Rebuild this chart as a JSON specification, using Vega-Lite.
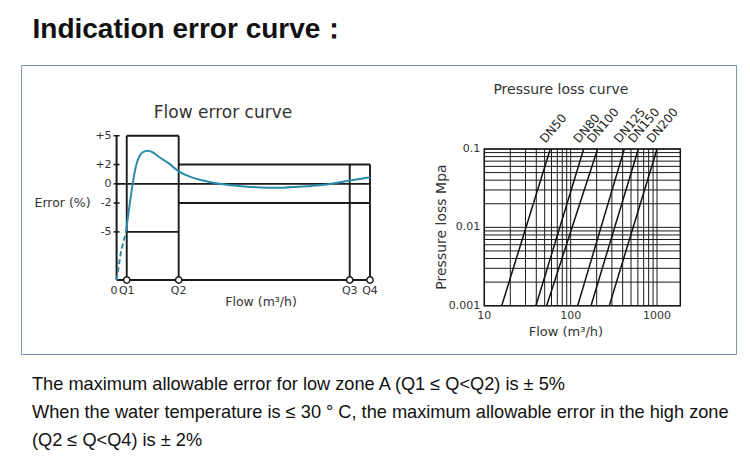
{
  "$schema": "https://vega.github.io/schema/vega-lite/v6.json",
  "background": "white",
  "padding": {"left": 20, "top": 15, "right": 13, "bottom": 0},
  "title": {"text": "Indication error curve：", "anchor": "start", "dx": 12, "offset": 21, "font": "Liberation Sans, Arial, sans-serif", "fontSize": 28, "fontWeight": "bold", "color": "#111"},
  "config": {"view": {"stroke": null}, "axis": {"disable": true}, "text": {"font": "DejaVu Sans", "color": "#333"}},
  "datasets": {
    "errorLimits": [
      {"kind": "axis", "flow_from": 0, "flow_to": 0, "error_from": -10, "error_to": 5},
      {"kind": "axis", "flow_from": 0, "flow_to": 100, "error_from": -10, "error_to": -10},
      {"kind": "zero", "flow_from": 0, "flow_to": 100, "error_from": 0, "error_to": 0},
      {"kind": "limit", "flow_from": 4, "flow_to": 4, "error_from": -10, "error_to": 5},
      {"kind": "limit", "flow_from": 24.5, "flow_to": 24.5, "error_from": -10, "error_to": 5},
      {"kind": "limit", "flow_from": 4, "flow_to": 24.5, "error_from": 5, "error_to": 5},
      {"kind": "limit", "flow_from": 4, "flow_to": 24.5, "error_from": -5, "error_to": -5},
      {"kind": "limit", "flow_from": 24.5, "flow_to": 100, "error_from": 2, "error_to": 2},
      {"kind": "limit", "flow_from": 24.5, "flow_to": 100, "error_from": -2, "error_to": -2},
      {"kind": "limit", "flow_from": 92, "flow_to": 92, "error_from": -10, "error_to": 2},
      {"kind": "limit", "flow_from": 100, "flow_to": 100, "error_from": -10, "error_to": 2}
    ],
    "errorTicks": [
      {"error": 5, "label": "+5"},
      {"error": 2, "label": "+2"},
      {"error": 0, "label": "0"},
      {"error": -2, "label": "-2"},
      {"error": -5, "label": "-5"}
    ],
    "flowCurve": [
      {"segment": "dashed", "flow": 0, "error": -10},
      {"segment": "dashed", "flow": 1.7, "error": -7.1},
      {"segment": "dashed", "flow": 3.7, "error": -5.0},
      {"segment": "solid", "flow": 3.7, "error": -5.0},
      {"segment": "solid", "flow": 4.4, "error": -3.6},
      {"segment": "solid", "flow": 5.4, "error": -1.7},
      {"segment": "solid", "flow": 6.35, "error": 0},
      {"segment": "solid", "flow": 7.7, "error": 1.9},
      {"segment": "solid", "flow": 9.0, "error": 2.86},
      {"segment": "solid", "flow": 10.3, "error": 3.28},
      {"segment": "solid", "flow": 12.3, "error": 3.44},
      {"segment": "solid", "flow": 14.2, "error": 3.28},
      {"segment": "solid", "flow": 16.9, "error": 2.76},
      {"segment": "solid", "flow": 20.2, "error": 2.2},
      {"segment": "solid", "flow": 24.5, "error": 1.3},
      {"segment": "solid", "flow": 29.4, "error": 0.69},
      {"segment": "solid", "flow": 34.6, "error": 0.31},
      {"segment": "solid", "flow": 39.9, "error": 0.03},
      {"segment": "solid", "flow": 45, "error": -0.15},
      {"segment": "solid", "flow": 50.4, "error": -0.28},
      {"segment": "solid", "flow": 55, "error": -0.36},
      {"segment": "solid", "flow": 60.9, "error": -0.41},
      {"segment": "solid", "flow": 66, "error": -0.4},
      {"segment": "solid", "flow": 71.5, "error": -0.31},
      {"segment": "solid", "flow": 77, "error": -0.22},
      {"segment": "solid", "flow": 82, "error": -0.1},
      {"segment": "solid", "flow": 87, "error": 0.1},
      {"segment": "solid", "flow": 91.8, "error": 0.34},
      {"segment": "solid", "flow": 96, "error": 0.5},
      {"segment": "solid", "flow": 100, "error": 0.69}
    ],
    "flowMarks": [
      {"flow": 0, "label": "0"},
      {"flow": 4, "label": "Q1"},
      {"flow": 24.5, "label": "Q2"},
      {"flow": 92, "label": "Q3"},
      {"flow": 100, "label": "Q4"}
    ],
    "flowGrid": [
      {"flow": 10}, {"flow": 20}, {"flow": 30}, {"flow": 40}, {"flow": 50}, {"flow": 60}, {"flow": 70}, {"flow": 80}, {"flow": 90},
      {"flow": 100}, {"flow": 200}, {"flow": 300}, {"flow": 400}, {"flow": 500}, {"flow": 600}, {"flow": 700}, {"flow": 800}, {"flow": 900},
      {"flow": 1000}
    ],
    "lossGrid": [
      {"loss": 0.001}, {"loss": 0.002}, {"loss": 0.003}, {"loss": 0.004}, {"loss": 0.005}, {"loss": 0.006}, {"loss": 0.007}, {"loss": 0.008}, {"loss": 0.009},
      {"loss": 0.01}, {"loss": 0.02}, {"loss": 0.03}, {"loss": 0.04}, {"loss": 0.05}, {"loss": 0.06}, {"loss": 0.07}, {"loss": 0.08}, {"loss": 0.09},
      {"loss": 0.1}
    ],
    "dnCurves": [
      {"size": "DN50", "flow": 15.9, "loss": 0.001},
      {"size": "DN50", "flow": 58.1, "loss": 0.1},
      {"size": "DN80", "flow": 39.6, "loss": 0.001},
      {"size": "DN80", "flow": 141.5, "loss": 0.1},
      {"size": "DN100", "flow": 52.7, "loss": 0.001},
      {"size": "DN100", "flow": 205, "loss": 0.1},
      {"size": "DN125", "flow": 120.5, "loss": 0.001},
      {"size": "DN125", "flow": 418, "loss": 0.1},
      {"size": "DN150", "flow": 172, "loss": 0.001},
      {"size": "DN150", "flow": 608, "loss": 0.1},
      {"size": "DN200", "flow": 280, "loss": 0.001},
      {"size": "DN200", "flow": 1000, "loss": 0.1}
    ],
    "lossTicks": [
      {"loss": 0.1, "label": "0.1"},
      {"loss": 0.01, "label": "0.01"},
      {"loss": 0.001, "label": "0.001"}
    ],
    "flowTicks": [
      {"flow": 10, "label": "10"},
      {"flow": 100, "label": "100"},
      {"flow": 1000, "label": "1000"}
    ]
  },
  "vconcat": [
    {
      "width": 715,
      "height": 289,
      "view": {"stroke": "#7b96b2", "strokeWidth": 1},
      "title": {
        "text": [
          "The maximum allowable error for low zone A (Q1 ≤ Q<Q2) is ± 5%",
          "When the water temperature is ≤ 30 ° C, the maximum allowable error in the high zone",
          "(Q2 ≤ Q<Q4) is ± 2%"
        ],
        "orient": "bottom", "anchor": "start", "dx": 11, "offset": 22,
        "font": "Liberation Sans, Arial, sans-serif", "fontSize": 18.2, "fontWeight": "normal", "color": "#111", "lineHeight": 28
      },
      "resolve": {"scale": {"x": "independent", "y": "independent"}},
      "layer": [
        {
          "layer": [
            {
              "data": {"name": "errorLimits"},
              "mark": {"type": "rule", "color": "#1a1a1a"},
              "encoding": {
                "x": {"field": "flow_from", "type": "quantitative", "axis": null, "scale": {"domain": [0, 100], "range": [95.6, 349], "nice": false, "zero": false}},
                "x2": {"field": "flow_to"},
                "y": {"field": "error_from", "type": "quantitative", "axis": null, "scale": {"domain": [-10, 5], "range": [215, 70.7], "nice": false, "zero": false}},
                "y2": {"field": "error_to"},
                "strokeWidth": {"field": "kind", "type": "ordinal", "scale": {"domain": ["axis", "limit", "zero"], "range": [2, 1.8, 1]}, "legend": null}
              }
            },
            {
              "data": {"name": "errorTicks"},
              "mark": {"type": "rule", "color": "#1a1a1a", "strokeWidth": 1.5},
              "encoding": {
                "x": {"datum": -1.2, "type": "quantitative", "axis": null, "scale": {"domain": [0, 100], "range": [95.6, 349], "nice": false, "zero": false}},
                "x2": {"datum": 1.2},
                "y": {"field": "error", "type": "quantitative", "axis": null, "scale": {"domain": [-10, 5], "range": [215, 70.7], "nice": false, "zero": false}}
              }
            },
            {
              "data": {"name": "errorTicks"},
              "mark": {"type": "text", "align": "right", "baseline": "middle", "dx": -5, "fontSize": 11},
              "encoding": {
                "x": {"datum": 0, "type": "quantitative", "axis": null, "scale": {"domain": [0, 100], "range": [95.6, 349], "nice": false, "zero": false}},
                "y": {"field": "error", "type": "quantitative", "axis": null, "scale": {"domain": [-10, 5], "range": [215, 70.7], "nice": false, "zero": false}},
                "text": {"field": "label"}
              }
            },
            {
              "data": {"name": "flowCurve"},
              "transform": [{"filter": "datum.segment === 'dashed'"}],
              "mark": {"type": "line", "color": "#2a8bab", "strokeWidth": 2, "strokeDash": [5, 3]},
              "encoding": {
                "x": {"field": "flow", "type": "quantitative", "axis": null, "scale": {"domain": [0, 100], "range": [95.6, 349], "nice": false, "zero": false}},
                "y": {"field": "error", "type": "quantitative", "axis": null, "scale": {"domain": [-10, 5], "range": [215, 70.7], "nice": false, "zero": false}}
              }
            },
            {
              "data": {"name": "flowCurve"},
              "transform": [{"filter": "datum.segment === 'solid'"}],
              "mark": {"type": "line", "color": "#2a8bab", "strokeWidth": 2, "interpolate": "monotone"},
              "encoding": {
                "x": {"field": "flow", "type": "quantitative", "axis": null, "scale": {"domain": [0, 100], "range": [95.6, 349], "nice": false, "zero": false}},
                "y": {"field": "error", "type": "quantitative", "axis": null, "scale": {"domain": [-10, 5], "range": [215, 70.7], "nice": false, "zero": false}}
              }
            },
            {
              "data": {"name": "flowMarks"},
              "transform": [{"filter": "datum.label !== '0'"}],
              "mark": {"type": "point", "filled": true, "fill": "white", "stroke": "#1a1a1a", "strokeWidth": 1.5, "size": 40, "opacity": 1},
              "encoding": {
                "x": {"field": "flow", "type": "quantitative", "axis": null, "scale": {"domain": [0, 100], "range": [95.6, 349], "nice": false, "zero": false}},
                "y": {"datum": -10, "type": "quantitative", "axis": null, "scale": {"domain": [-10, 5], "range": [215, 70.7], "nice": false, "zero": false}}
              }
            },
            {
              "data": {"name": "flowMarks"},
              "transform": [{"filter": "datum.label !== '0'"}],
              "mark": {"type": "text", "align": "center", "baseline": "middle", "dy": 11, "fontSize": 11},
              "encoding": {
                "x": {"field": "flow", "type": "quantitative", "axis": null, "scale": {"domain": [0, 100], "range": [95.6, 349], "nice": false, "zero": false}},
                "y": {"datum": -10, "type": "quantitative", "axis": null, "scale": {"domain": [-10, 5], "range": [215, 70.7], "nice": false, "zero": false}},
                "text": {"field": "label"}
              }
            },
            {
              "data": {"name": "flowMarks"},
              "transform": [{"filter": "datum.label === '0'"}],
              "mark": {"type": "text", "align": "right", "baseline": "middle", "dx": 1, "dy": 11, "fontSize": 11},
              "encoding": {
                "x": {"field": "flow", "type": "quantitative", "axis": null, "scale": {"domain": [0, 100], "range": [95.6, 349], "nice": false, "zero": false}},
                "y": {"datum": -10, "type": "quantitative", "axis": null, "scale": {"domain": [-10, 5], "range": [215, 70.7], "nice": false, "zero": false}},
                "text": {"field": "label"}
              }
            },
            {
              "data": {"values": [{}]},
              "mark": {"type": "text", "text": "Flow error curve", "align": "center", "baseline": "middle", "fontSize": 17},
              "encoding": {
                "x": {"datum": 42, "type": "quantitative", "axis": null, "scale": {"domain": [0, 100], "range": [95.6, 349], "nice": false, "zero": false}},
                "y": {"datum": 7.4, "type": "quantitative", "axis": null, "scale": {"domain": [-10, 5], "range": [215, 70.7], "nice": false, "zero": false}}
              }
            },
            {
              "data": {"values": [{}]},
              "mark": {"type": "text", "text": "Error (%)", "align": "right", "baseline": "middle", "dx": -26, "fontSize": 12.5},
              "encoding": {
                "x": {"datum": 0, "type": "quantitative", "axis": null, "scale": {"domain": [0, 100], "range": [95.6, 349], "nice": false, "zero": false}},
                "y": {"datum": -2, "type": "quantitative", "axis": null, "scale": {"domain": [-10, 5], "range": [215, 70.7], "nice": false, "zero": false}}
              }
            },
            {
              "data": {"values": [{}]},
              "mark": {"type": "text", "text": "Flow (m³/h)", "align": "center", "baseline": "middle", "fontSize": 12.5},
              "encoding": {
                "x": {"datum": 57, "type": "quantitative", "axis": null, "scale": {"domain": [0, 100], "range": [95.6, 349], "nice": false, "zero": false}},
                "y": {"datum": -12.3, "type": "quantitative", "axis": null, "scale": {"domain": [-10, 5], "range": [215, 70.7], "nice": false, "zero": false}}
              }
            }
          ]
        },
        {
          "layer": [
            {
              "data": {"name": "flowGrid"},
              "mark": {"type": "rule", "color": "#1a1a1a", "strokeWidth": 1},
              "encoding": {
                "x": {"field": "flow", "type": "quantitative", "axis": null, "scale": {"type": "log", "domain": [10, 1860], "range": [463.3, 659.3], "nice": false}},
                "y": {"datum": 0.001, "type": "quantitative", "axis": null, "scale": {"type": "log", "domain": [0.001, 0.1], "range": [240.7, 84], "nice": false}},
                "y2": {"datum": 0.1}
              }
            },
            {
              "data": {"name": "lossGrid"},
              "mark": {"type": "rule", "color": "#1a1a1a", "strokeWidth": 1},
              "encoding": {
                "x": {"datum": 10, "type": "quantitative", "axis": null, "scale": {"type": "log", "domain": [10, 1860], "range": [463.3, 659.3], "nice": false}},
                "x2": {"datum": 1860},
                "y": {"field": "loss", "type": "quantitative", "axis": null, "scale": {"type": "log", "domain": [0.001, 0.1], "range": [240.7, 84], "nice": false}}
              }
            },
            {
              "data": {"values": [{}]},
              "mark": {"type": "rect", "filled": false, "stroke": "#1a1a1a", "strokeWidth": 1.5},
              "encoding": {
                "x": {"datum": 10, "type": "quantitative", "axis": null, "scale": {"type": "log", "domain": [10, 1860], "range": [463.3, 659.3], "nice": false}},
                "x2": {"datum": 1860},
                "y": {"datum": 0.001, "type": "quantitative", "axis": null, "scale": {"type": "log", "domain": [0.001, 0.1], "range": [240.7, 84], "nice": false}},
                "y2": {"datum": 0.1}
              }
            },
            {
              "data": {"name": "dnCurves"},
              "mark": {"type": "line", "color": "#111", "strokeWidth": 1.5},
              "encoding": {
                "x": {"field": "flow", "type": "quantitative", "axis": null, "scale": {"type": "log", "domain": [10, 1860], "range": [463.3, 659.3], "nice": false}},
                "y": {"field": "loss", "type": "quantitative", "axis": null, "scale": {"type": "log", "domain": [0.001, 0.1], "range": [240.7, 84], "nice": false}},
                "detail": {"field": "size", "type": "nominal"}
              }
            },
            {
              "data": {"name": "dnCurves"},
              "transform": [{"filter": "datum.loss === 0.1"}],
              "mark": {"type": "text", "align": "left", "baseline": "alphabetic", "angle": 310, "dx": 1, "dy": -7, "fontSize": 12, "color": "#222"},
              "encoding": {
                "x": {"field": "flow", "type": "quantitative", "axis": null, "scale": {"type": "log", "domain": [10, 1860], "range": [463.3, 659.3], "nice": false}},
                "y": {"field": "loss", "type": "quantitative", "axis": null, "scale": {"type": "log", "domain": [0.001, 0.1], "range": [240.7, 84], "nice": false}},
                "text": {"field": "size"}
              }
            },
            {
              "data": {"name": "lossTicks"},
              "mark": {"type": "text", "align": "right", "baseline": "middle", "dx": -4, "fontSize": 11},
              "encoding": {
                "x": {"datum": 10, "type": "quantitative", "axis": null, "scale": {"type": "log", "domain": [10, 1860], "range": [463.3, 659.3], "nice": false}},
                "y": {"field": "loss", "type": "quantitative", "axis": null, "scale": {"type": "log", "domain": [0.001, 0.1], "range": [240.7, 84], "nice": false}},
                "text": {"field": "label"}
              }
            },
            {
              "data": {"name": "flowTicks"},
              "mark": {"type": "text", "align": "center", "baseline": "middle", "dy": 10, "fontSize": 11},
              "encoding": {
                "x": {"field": "flow", "type": "quantitative", "axis": null, "scale": {"type": "log", "domain": [10, 1860], "range": [463.3, 659.3], "nice": false}},
                "y": {"datum": 0.001, "type": "quantitative", "axis": null, "scale": {"type": "log", "domain": [0.001, 0.1], "range": [240.7, 84], "nice": false}},
                "text": {"field": "label"}
              }
            },
            {
              "data": {"values": [{}]},
              "mark": {"type": "text", "text": "Pressure loss curve", "align": "center", "baseline": "middle", "fontSize": 14},
              "encoding": {
                "x": {"datum": 77, "type": "quantitative", "axis": null, "scale": {"type": "log", "domain": [10, 1860], "range": [463.3, 659.3], "nice": false}},
                "y": {"datum": 0.57, "type": "quantitative", "axis": null, "scale": {"type": "log", "domain": [0.001, 0.1], "range": [240.7, 84], "nice": false}}
              }
            },
            {
              "data": {"values": [{}]},
              "mark": {"type": "text", "text": "Pressure loss Mpa", "align": "center", "baseline": "middle", "angle": 270, "fontSize": 14},
              "encoding": {
                "x": {"datum": 3.2, "type": "quantitative", "axis": null, "scale": {"type": "log", "domain": [10, 1860], "range": [463.3, 659.3], "nice": false}},
                "y": {"datum": 0.0101, "type": "quantitative", "axis": null, "scale": {"type": "log", "domain": [0.001, 0.1], "range": [240.7, 84], "nice": false}}
              }
            },
            {
              "data": {"values": [{}]},
              "mark": {"type": "text", "text": "Flow (m³/h)", "align": "center", "baseline": "middle", "fontSize": 13},
              "encoding": {
                "x": {"datum": 88, "type": "quantitative", "axis": null, "scale": {"type": "log", "domain": [10, 1860], "range": [463.3, 659.3], "nice": false}},
                "y": {"datum": 0.00046, "type": "quantitative", "axis": null, "scale": {"type": "log", "domain": [0.001, 0.1], "range": [240.7, 84], "nice": false}}
              }
            }
          ]
        }
      ]
    }
  ]
}
